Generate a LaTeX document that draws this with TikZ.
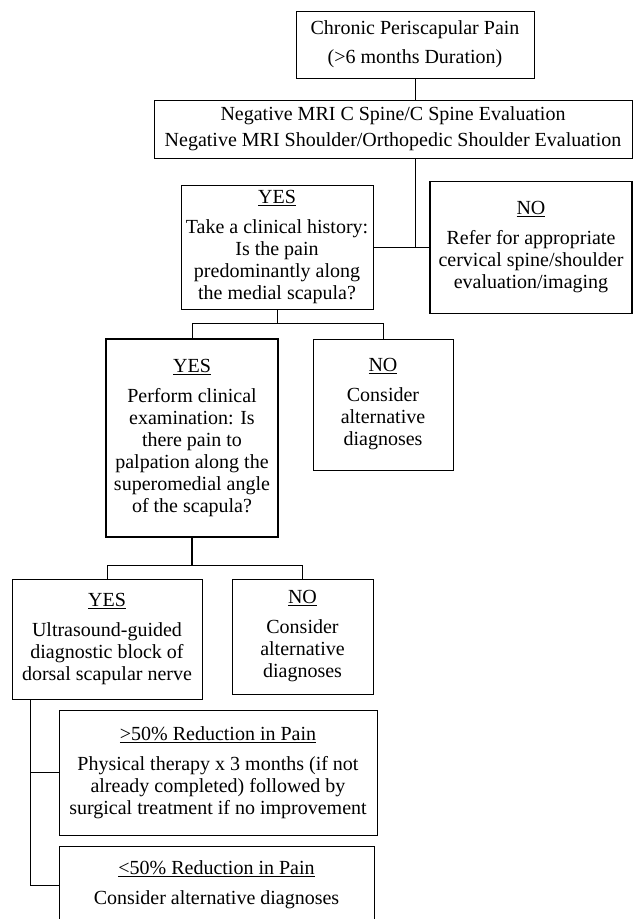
\documentclass[tikz,border=0pt]{standalone}
\usepackage{fontspec}
\setmainfont{Liberation Serif}

\begin{document}
\begin{tikzpicture}[x=1pt, y=-1pt, every node/.style={font=\fontsize{20}{22}\selectfont, align=center, inner sep=0pt}, box/.style={draw, line width=0.9pt}, boldbox/.style={draw, line width=1.7pt}, link/.style={line width=0.9pt}, boldlink/.style={line width=1.7pt}]
	\useasboundingbox (0,0) rectangle (634,919);
	\node[box, minimum width=238pt, minimum height=67pt] (pain) at (415,44.5) {Chronic Periscapular Pain\\[7pt](>6 months Duration)};
	\node[box, minimum width=478pt, minimum height=58pt] (mri) at (393,129) {Negative MRI C Spine/C Spine Evaluation\\[4pt]Negative MRI Shoulder/Orthopedic Shoulder Evaluation};
	\node[box, minimum width=192pt, minimum height=124pt] (hist) at (277,247.5) {\underline{YES}\\[8pt]Take a clinical history:\\Is the pain\\predominantly along\\the medial scapula?};
	\node[boldbox, minimum width=202pt, minimum height=132pt] (refer) at (531,247.5) {\underline{NO}\\[8pt]Refer for appropriate\\cervical spine/shoulder\\evaluation/imaging};
	\node[boldbox, minimum width=172pt, minimum height=198pt] (exam) at (192,438) {\underline{YES}\\[8pt]Perform clinical\\examination: Is\\there pain to\\palpation along the\\superomedial angle\\of the scapula?};
	\node[box, minimum width=140pt, minimum height=131pt] (alt1) at (383,404.5) {\underline{NO}\\[8pt]Consider\\alternative\\diagnoses};
	\node[box, minimum width=190pt, minimum height=120pt] (block) at (107,639) {\underline{YES}\\[8pt]Ultrasound-guided\\diagnostic block of\\dorsal scapular nerve};
	\node[box, minimum width=141pt, minimum height=115pt] (alt2) at (302.5,636.5) {\underline{NO}\\[8pt]Consider\\alternative\\diagnoses};
	\node[box, minimum width=318pt, minimum height=125pt] (pt) at (218,772.5) {\underline{>50\% Reduction in Pain}\\[8pt]Physical therapy x 3 months (if not\\already completed) followed by\\surgical treatment if no improvement};
	\node[box, minimum width=315pt, minimum height=78pt] (alt3) at (216.5,885) {\underline{<50\% Reduction in Pain}\\[8pt]Consider alternative diagnoses};
	% connectors
	\draw[link] (pain.south) -- (pain.south |- mri.north);
	\draw[link] (pain.south |- mri.south) -- (pain.south |- hist.east);
	\draw[link] (hist.east) -- (hist.east -| refer.west);
	\draw[link] (hist.south) -- ++(0,13) coordinate (j2);
	\draw[link] (exam.north) |- (j2) -| (alt1.north);
	\draw[boldlink] (exam.south) -- ++(0,28) coordinate (j3);
	\draw[link] (block.north) |- (j3) -| (alt2.north);
	\draw[link] (block.south west) ++(19,0) coordinate (j4) |- (alt3.west);
	\draw[link] (pt.west) -| (j4);
\end{tikzpicture}
\end{document}
